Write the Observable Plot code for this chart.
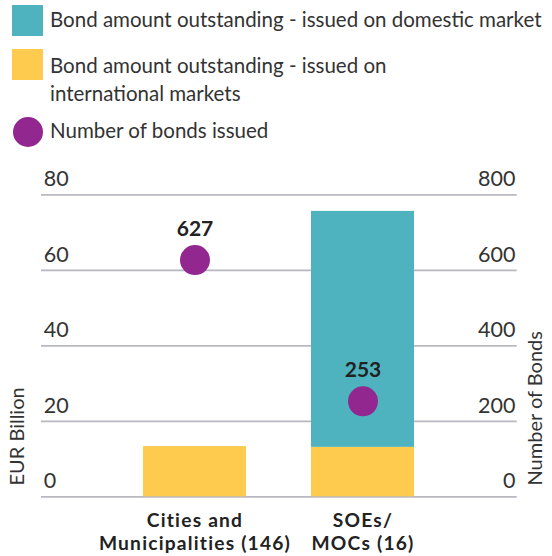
<!DOCTYPE html>
<html>
<head>
<meta charset="utf-8">
<script src="https://cdn.jsdelivr.net/npm/d3@7"></script>
<script src="https://cdn.jsdelivr.net/npm/@observablehq/plot@0.6"></script>
<style>
  html, body { margin: 0; padding: 0; background: #fff; }
  body { width: 552px; height: 556px; overflow: hidden; font-family: Lato, "Open Sans", sans-serif; color: #333; }
  #legend { position: relative; height: 160px; }
  .sw { position: absolute; left: 12px; width: 31px; height: 31px; }
  .lt { position: absolute; left: 50px; font-size: 20.5px; line-height: 28.4px; white-space: nowrap; color: #333; }
  #chart svg g[aria-label="x-axis tick label"] text { letter-spacing: 1.2px; }
</style>
</head>
<body>
<div id="legend"></div>
<div id="chart"></div>
<script>
// ---- data ----
const categories = ["Cities and\nMunicipalities (146)", "SOEs/\nMOCs (16)"];
const seriesNames = [
  "Bond amount outstanding - issued on international markets",
  "Bond amount outstanding - issued on domestic market"
];
const international = [13.3, 13.1];   // EUR billion
const domestic = [0, 62.5];           // EUR billion
const bondCounts = [627, 253];        // number of bonds issued
const leftTicks = [0, 20, 40, 60, 80];
const rightTicks = [0, 200, 400, 600, 800];
const legendLabels = [
  "Bond amount outstanding - issued on domestic market",
  "Bond amount outstanding - issued on<br>international markets",
  "Number of bonds issued"
];
const colors = { domestic: "#4eb3bf", international: "#fecb4f", count: "#92278f" };

// ---- legend ----
const legend = document.getElementById("legend");
legend.innerHTML = `
  <div class="sw" style="top:5px;background:${colors.domestic}"></div>
  <div class="lt" style="top:4.5px">${legendLabels[0]}</div>
  <div class="sw" style="top:49px;background:${colors.international}"></div>
  <div class="lt" style="top:51px">${legendLabels[1]}</div>
  <div class="sw" style="top:117px;left:13px;width:30px;height:30px;border-radius:50%;background:${colors.count}"></div>
  <div class="lt" style="top:116px">${legendLabels[2]}</div>
`;

// ---- chart data tables ----
const barData = [];
categories.forEach((c, i) => {
  barData.push({ category: c, series: "international", value: international[i] });
  barData.push({ category: c, series: "domestic", value: domestic[i] });
});
const dotData = categories.map((c, i) => ({ category: c, count: bondCounts[i] }));
const ratio = rightTicks[rightTicks.length - 1] / leftTicks[leftTicks.length - 1];

const chart = Plot.plot({
  width: 552,
  height: 396,
  marginLeft: 41,
  marginRight: 35.3,
  marginTop: 34.3,
  marginBottom: 59.7,
  style: { fontFamily: "Lato, 'Open Sans', sans-serif", fontSize: "20px", color: "#333", background: "transparent", overflow: "visible" },
  x: { domain: categories, paddingInner: 0.385, paddingOuter: 0.6, label: null },
  y: { domain: [0, 80], label: null },
  color: { domain: ["international", "domestic"], range: [colors.international, colors.domestic] },
  marks: [
    Plot.ruleY(leftTicks, { stroke: "#b8b8c0", strokeWidth: 1.8 }),
    Plot.barY(barData, { x: "category", y: "value", fill: "series", order: ["international", "domestic"] }),
    Plot.dot(dotData, { x: "category", y: d => d.count / ratio, r: 15, fill: colors.count, stroke: null }),
    Plot.text(dotData, { x: "category", y: d => d.count / ratio, text: d => String(d.count), dy: -31, fontSize: 21, fontWeight: "bold", fill: "#222" }),
    Plot.axisY(leftTicks, { anchor: "left", tickSize: 0, tickPadding: -2.3, textAnchor: "start", dy: -15.5, fontSize: 21.5, fill: "#333", label: null }),
    Plot.axisY(rightTicks.map(v => v / ratio), { anchor: "right", tickSize: 0, tickPadding: -1.7, textAnchor: "end", dy: -15.5, fontSize: 21.5, fill: "#333", label: null, tickFormat: d => String(Math.round(d * ratio)) }),
    Plot.axisX({ tickSize: 0, tickPadding: 14, fontSize: 19.2, fontWeight: "bold", fill: "#222", lineHeight: 1.2, label: null }),
    Plot.text(["EUR Billion"], { frameAnchor: "bottom-left", rotate: -90, textAnchor: "start", dx: -17.7, dy: -11.3, fontSize: 20, fill: "#333" }),
    Plot.text(["Number of Bonds"], { frameAnchor: "bottom-right", rotate: -90, textAnchor: "start", dx: 24.3, dy: -11.3, fontSize: 20, fill: "#333" })
  ]
});
document.getElementById("chart").appendChild(chart);
</script>
</body>
</html>
